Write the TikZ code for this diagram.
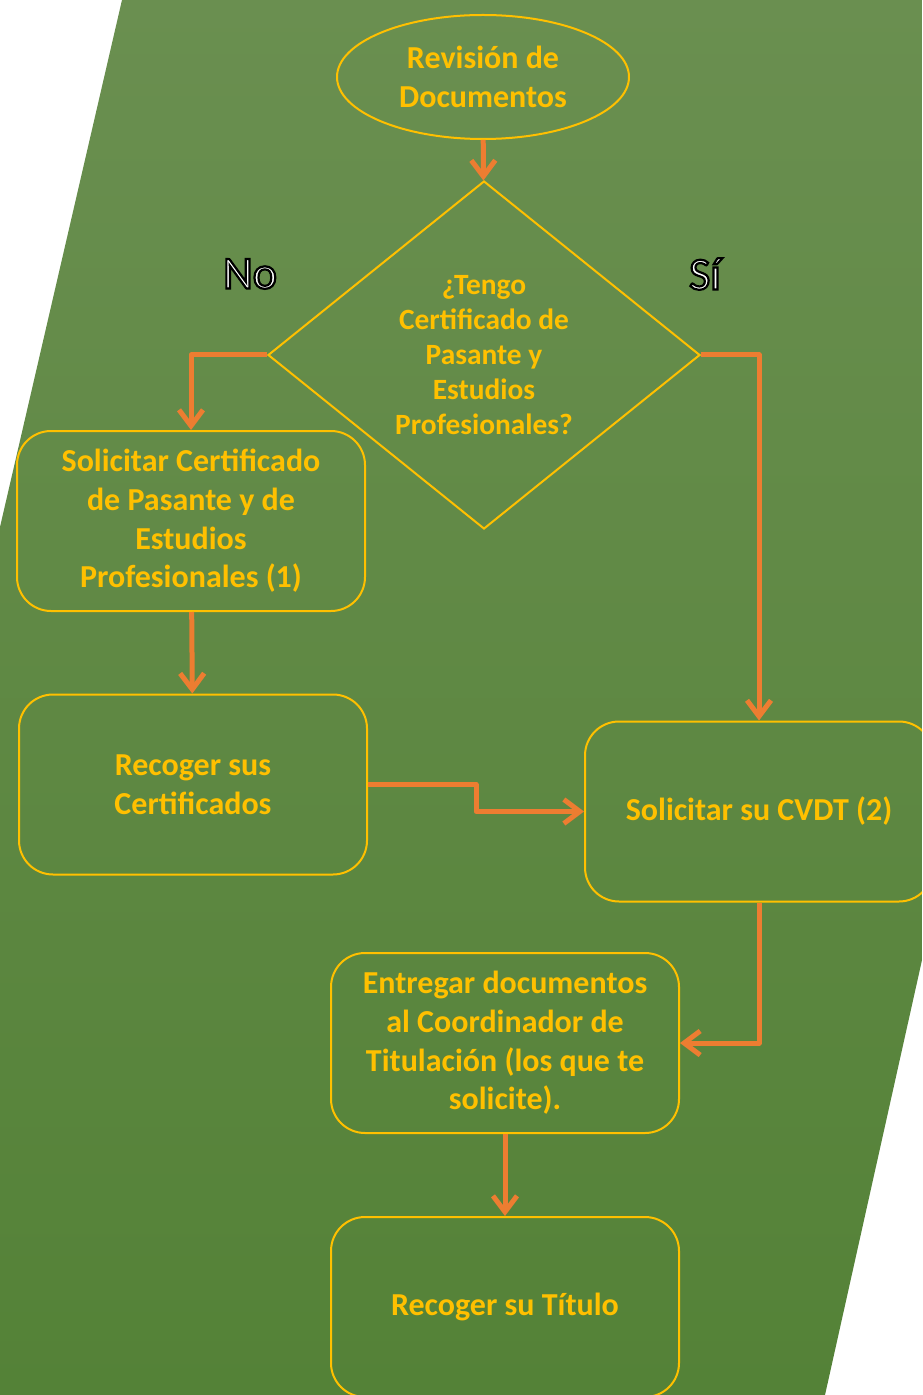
\documentclass[tikz,border=0pt]{standalone}
\usepackage{fontspec}
\setmainfont{Carlito}
\usetikzlibrary{shapes.geometric,arrows.meta}
\definecolor{oro}{HTML}{FFC000}
\definecolor{flecha}{HTML}{ED7D31}
\definecolor{verdeA}{RGB}{106,143,80}
\definecolor{verdeB}{RGB}{84,130,55}
% texto blanco con contorno negro
\newcommand{\contorno}[1]{\special{pdf:literal direct 1 g 0 G 1.1 w 2 Tr}#1\special{pdf:literal direct 0 Tr}}
\begin{document}
\begin{tikzpicture}[x=0.5pt,y=-0.5pt,
    texto/.style={text=oro, align=center, font=\bfseries\fontsize{16}{19.35}\selectfont},
    stepbox/.style={texto, draw=oro, line width=1pt, rounded corners=17pt,
      minimum width=174pt, minimum height=90pt, inner sep=0pt},
    decision/.style={texto, diamond, draw=oro, line width=1pt, aspect=1.24,
      minimum width=216pt, minimum height=174pt, inner sep=0pt,
      font=\bfseries\fontsize{14.7}{17.5}\selectfont},
    inicio/.style={texto, ellipse, draw=oro, line width=1pt,
      minimum width=146pt, minimum height=62pt, inner sep=0pt},
    flow/.style={flecha, line width=2.5pt, line join=round,
      -{Straight Barb[length=8pt,width=12pt]}},
    rama/.style={text=white, font=\fontsize{23}{27}\selectfont}]
  \useasboundingbox (0,0) rectangle (922,1395);
  \clip (0,0) rectangle (922,1395);
  % fondo
  \shade[top color=verdeA, bottom color=verdeB]
    (122,0) -- (922,0) -- (922,960) -- (825,1395) -- (0,1395) -- (0,527) -- cycle;
  % nodos
  \node[inicio] (revision) at (483,77) {Revisión de\\Documentos};
  \node[decision] (pregunta) at (484,355)
    {¿Tengo\\Certificado de\\Pasante y\\Estudios\\Profesionales?};
  \node[stepbox] (solicitar) at (191,521)
    {Solicitar Certificado\\de Pasante y de\\Estudios\\Profesionales (1)};
  \node[stepbox] (recoger) at (193,784.5) {Recoger sus\\Certificados};
  \node[stepbox] (cvdt) at (759,811.5) {Solicitar su CVDT (2)};
  \node[stepbox] (entregar) at (505,1043)
    {Entregar documentos\\al Coordinador de\\Titulación (los que te\\solicite).};
  \node[stepbox] (titulo) at (505,1307) {Recoger su Título};
  \node[rama] (no) at (250,274) {\contorno{No}};
  \node[rama] (si) at (705,274) {\contorno{Sí}};
  % flechas
  \draw[flow] (revision) -- (pregunta);
  \draw[flow] (pregunta.west) -| (solicitar.north);
  \draw[flow] (pregunta.east) -| (cvdt.north);
  \draw[flow] (solicitar) -- (recoger);
  \draw[flow] (recoger.east) -- ++(108,0) |- (cvdt.west);
  \draw[flow] (cvdt.south) |- (entregar.east);
  \draw[flow] (entregar) -- (titulo);
\end{tikzpicture}
\end{document}
